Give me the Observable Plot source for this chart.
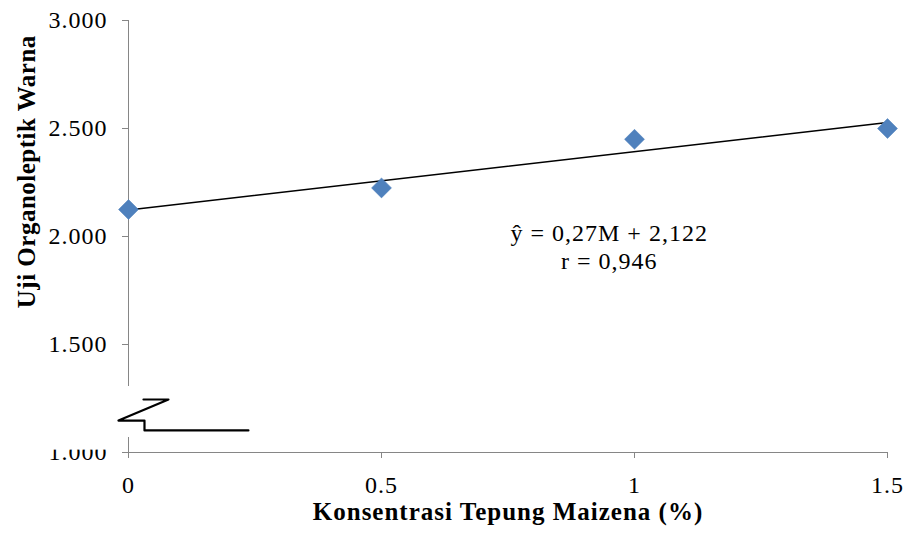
<!DOCTYPE html>
<html><head><meta charset="utf-8">
<script src="https://cdn.jsdelivr.net/npm/d3@7"></script>
<script src="https://cdn.jsdelivr.net/npm/@observablehq/plot@0.6"></script>
<style>
body{margin:0;background:#fff;}
#chart svg, #chart svg text{font-family:"Liberation Serif","Times New Roman",serif !important;}
#chart svg g[aria-label="y-axis tick label"] text,
#chart svg g[aria-label="x-axis tick label"] text{letter-spacing:1px;}
#chart svg g.eq text{letter-spacing:1px;}
#chart svg g.xt text{letter-spacing:1px;}
#chart svg g.yt text{letter-spacing:0.5px;}
</style>
</head><body><div id="chart"></div>
<script>
// ---- data ----
const konsentrasi = [0, 0.5, 1, 1.5];
const warna = [2.125, 2.225, 2.45, 2.5];
const xTicks = [0, 0.5, 1, 1.5];
const yTicks = [1, 1.5, 2, 2.5, 3];
const equationLines = ["ŷ = 0,27M + 2,122", "r = 0,946"];
const xTitle = "Konsentrasi Tepung Maizena (%)";
const yTitle = "Uji Organoleptik Warna";

const data = konsentrasi.map((x, i) => ({x, y: warna[i]}));

// axis-break decoration (data units)
const breakCover = [
  {x1: -0.174, x2: 0.014, y1: 1.0694, y2: 1.3056},
  {x1: -0.174, x2: -0.02, y1: 1.011, y2: 1.0694}
];
const breakGlyph = [
  {x: 0.0296, y: 1.2454}, {x: 0.079, y: 1.2454}, {x: -0.0198, y: 1.148},
  {x: 0.0316, y: 1.148}, {x: 0.0316, y: 1.102}, {x: 0.237, y: 1.102}
];

const gray = "#868686";
const ff = '"Liberation Serif","Times New Roman",serif';
const fs = 24;
const fsTitle = 25;
const fsEq = 24;

const chart = Plot.plot({
  width: 909, height: 538,
  marginLeft: 128, marginRight: 22, marginTop: 20, marginBottom: 86,
  style: {fontFamily: ff, fontSize: fs + "px", background: "#fff", overflow: "visible"},
  x: {domain: [0, 1.5]},
  y: {domain: [1, 3]},
  marks: [
    Plot.ruleX([0], {y1: 1, y2: 3, stroke: gray, strokeWidth: 1}),
    Plot.ruleY([1], {x1: 0, x2: 1.5, stroke: gray, strokeWidth: 1}),
    Plot.axisY({ticks: yTicks, tickFormat: d3.format(".3f"), tickSize: 6, tickPadding: 15, stroke: gray, fill: "black", label: null, fontSize: fs, fontFamily: ff}),
    Plot.axisX({ticks: xTicks, tickFormat: d => String(d), tickSize: 6, tickPadding: 17, stroke: gray, fill: "black", label: null, fontSize: fs, fontFamily: ff}),
    Plot.rect(breakCover, {x1: "x1", x2: "x2", y1: "y1", y2: "y2", fill: "white"}),
    Plot.line(breakGlyph, {x: "x", y: "y", stroke: "black", strokeWidth: 2.2, curve: "linear"}),
    Plot.linearRegressionY(data, {x: "x", y: "y", stroke: "black", strokeWidth: 1.5, ci: 0}),
    Plot.dot(data, {x: "x", y: "y", symbol: "diamond2", r: 9, fill: "#4F81BD", stroke: "#4F81BD", strokeWidth: 0.5}),
    Plot.text([equationLines[0]], {x: 0.95, y: 2.016, text: d => d, fontSize: fsEq, fontFamily: ff, fill: "black", className: "eq"}),
    Plot.text([equationLines[1]], {x: 0.95, y: 1.887, text: d => d, fontSize: fsEq, fontFamily: ff, fill: "black", className: "eq"}),
    Plot.text([xTitle], {frameAnchor: "bottom", dy: 67, text: d => d, fontSize: fsTitle, fontFamily: ff, fontWeight: "bold", fill: "black", className: "xt"}),
    Plot.text([yTitle], {frameAnchor: "left", textAnchor: "middle", y: 2.3, dx: -102, rotate: -90, text: d => d, fontSize: fsTitle, fontFamily: ff, fontWeight: "bold", fill: "black", className: "yt"})
  ]
});
document.getElementById("chart").appendChild(chart);
</script>
</body></html>
